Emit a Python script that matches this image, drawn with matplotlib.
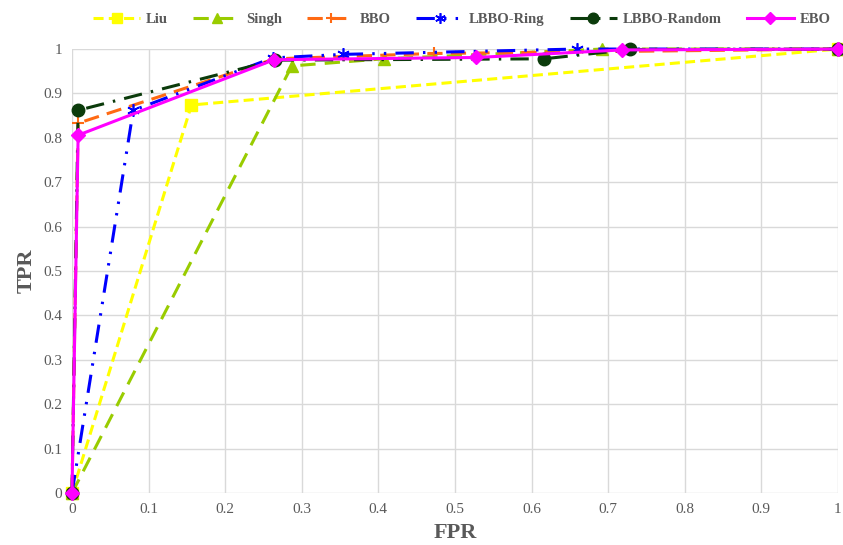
import matplotlib.pyplot as plt
import numpy as np

plt.rcParams['font.family'] = ['Liberation Serif', 'DejaVu Serif']

# ROC points (FPR, TPR)
liu_fpr = [0, 0.156, 1]
liu_tpr = [0, 0.874, 1]
singh_fpr = [0, 0.287, 0.407, 0.692, 1]
singh_tpr = [0, 0.962, 0.978, 1.0, 1]
bbo_fpr = [0, 0.008, 0.265, 0.472, 1]
bbo_tpr = [0, 0.833, 0.978, 0.99, 1]
ring_fpr = [0, 0.08, 0.262, 0.354, 0.659, 1]
ring_tpr = [0, 0.862, 0.98, 0.988, 1.0, 1]
random_fpr = [0, 0.008, 0.265, 0.616, 0.729, 1]
random_tpr = [0, 0.862, 0.975, 0.978, 0.999, 1]
ebo_fpr = [0, 0.008, 0.264, 0.528, 0.718, 1]
ebo_tpr = [0, 0.806, 0.976, 0.981, 0.998, 1]

ticks = np.round(np.arange(0, 1.01, 0.1), 1)
tick_labels = ["0"] + [f"{t:.1f}" for t in ticks[1:-1]] + ["1"]

gris = "#595959"

fig = plt.figure(figsize=(8.43, 5.45), dpi=100)
ax = fig.add_axes([0.0854, 0.0954, 0.9086, 0.8146])

lw = 2.2
ax.plot(liu_fpr, liu_tpr, color="#FFFF00", lw=lw, dashes=(3.3, 1.7),
        marker="s", ms=8, mec="#FFFF00", label="Liu", clip_on=False)
ax.plot(singh_fpr, singh_tpr, color="#99CC00", lw=lw, dashes=(5, 3),
        marker="^", ms=8, mec="#99CC00", label="Singh", clip_on=False)
ax.plot(bbo_fpr, bbo_tpr, color="#FF6A13", lw=lw, dashes=(5, 2.7),
        marker="+", ms=9, mew=1.5, label="BBO", clip_on=False)
ax.plot(ring_fpr, ring_tpr, color="#0000FF", lw=lw, dashes=(6, 3, 0.8, 3, 0.8, 3),
        marker=(6, 2, 0), ms=9, mew=1.2, label="LBBO-Ring", clip_on=False)
ax.plot(random_fpr, random_tpr, color="#0B3B0B", lw=lw, dashes=(6, 3, 0.8, 3),
        marker="o", ms=9, label="LBBO-Random", clip_on=False)
ax.plot(ebo_fpr, ebo_tpr, color="#FF00FF", lw=lw, marker="D", ms=7,
        label="EBO", clip_on=False)

ax.set_xlim(0, 1)
ax.set_ylim(0, 1)
ax.set_xticks(ticks)
ax.set_xticklabels(tick_labels)
ax.set_yticks(ticks)
ax.set_yticklabels(tick_labels)
ax.tick_params(length=0, labelsize=11, labelcolor=gris, pad=7)
ax.grid(color="#D9D9D9", lw=1)
ax.set_axisbelow(True)
for s in ax.spines.values():
    s.set_visible(False)

ax.set_xlabel("FPR", fontsize=16, fontweight="bold", color=gris, labelpad=5)
ax.set_ylabel("TPR", fontsize=16, fontweight="bold", color=gris, labelpad=5)

fig.legend(loc="upper center", bbox_to_anchor=(0.548, 1.0), ncol=6, frameon=False,
           prop={"weight": "bold", "size": 10.5}, labelcolor=gris,
           handlelength=3.2, columnspacing=1.75, handletextpad=0.4, markerscale=0.85)

plt.savefig("out.png", dpi=100)
